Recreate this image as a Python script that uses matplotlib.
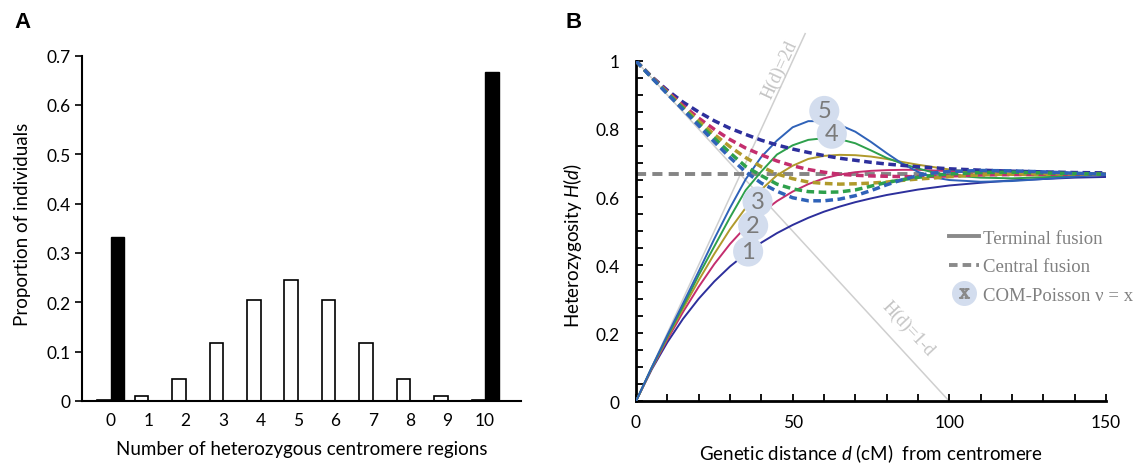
import numpy as np
import matplotlib.pyplot as plt
from matplotlib.lines import Line2D
from matplotlib.ticker import MultipleLocator, FuncFormatter

plt.rcParams['font.family'] = ['Lato', 'DejaVu Sans']
plt.rcParams['mathtext.fontset'] = 'custom'
plt.rcParams['mathtext.it'] = 'Lato:italic'
plt.rcParams['mathtext.rm'] = 'Liberation Serif'

# ---- panel A data
n_het = list(range(11))
white_bars = [0.001, 0.010, 0.044, 0.117, 0.205, 0.246, 0.205, 0.117, 0.044, 0.010, 0.001]
black_bars = [0.333, 0, 0, 0, 0, 0, 0, 0, 0, 0, 0.667]

# ---- panel B data, d in cM
dist_cM = [0, 5, 10, 15, 20, 25, 30, 35, 40, 45, 50, 55, 60, 65, 70, 75, 80, 85, 90, 95,
           100, 110, 120, 130, 140, 150]
term_1 = [0, 0.093, 0.173, 0.242, 0.301, 0.352, 0.396, 0.433, 0.466, 0.494, 0.518, 0.539, 0.557,
          0.572, 0.585, 0.596, 0.606, 0.614, 0.622, 0.628, 0.634, 0.642, 0.649, 0.653, 0.657, 0.659]
term_2 = [0, 0.095, 0.181, 0.262, 0.336, 0.403, 0.462, 0.512, 0.553, 0.588, 0.616, 0.638, 0.655,
          0.666, 0.673, 0.677, 0.679, 0.680, 0.680, 0.678, 0.676, 0.671, 0.668, 0.666, 0.666, 0.667]
term_3 = [0, 0.097, 0.186, 0.272, 0.355, 0.433, 0.505, 0.568, 0.622, 0.664, 0.692, 0.712, 0.721,
          0.724, 0.723, 0.719, 0.712, 0.703, 0.695, 0.688, 0.681, 0.671, 0.665, 0.663, 0.664, 0.666]
term_4 = [0, 0.098, 0.190, 0.279, 0.370, 0.455, 0.540, 0.620, 0.675, 0.725, 0.752, 0.768, 0.773,
          0.770, 0.758, 0.737, 0.715, 0.698, 0.684, 0.672, 0.664, 0.657, 0.655, 0.658, 0.663, 0.666]
term_5 = [0, 0.099, 0.194, 0.287, 0.381, 0.477, 0.568, 0.652, 0.718, 0.766, 0.805, 0.823, 0.823,
          0.812, 0.792, 0.762, 0.729, 0.698, 0.674, 0.658, 0.650, 0.645, 0.647, 0.653, 0.660, 0.666]
cent_1 = [1, 0.954, 0.914, 0.879, 0.850, 0.824, 0.802, 0.784, 0.767, 0.753, 0.741, 0.731, 0.722,
          0.714, 0.708, 0.702, 0.697, 0.693, 0.689, 0.686, 0.683, 0.679, 0.676, 0.674, 0.672, 0.671]
cent_2 = [1, 0.953, 0.910, 0.869, 0.832, 0.799, 0.769, 0.744, 0.724, 0.706, 0.692, 0.681, 0.673,
          0.667, 0.664, 0.662, 0.661, 0.660, 0.660, 0.661, 0.662, 0.665, 0.666, 0.667, 0.667, 0.667]
cent_3 = [1, 0.952, 0.907, 0.864, 0.823, 0.784, 0.748, 0.716, 0.689, 0.668, 0.654, 0.644, 0.640,
          0.638, 0.639, 0.641, 0.644, 0.649, 0.653, 0.656, 0.660, 0.665, 0.668, 0.669, 0.668, 0.667]
cent_4 = [1, 0.951, 0.905, 0.861, 0.815, 0.773, 0.730, 0.690, 0.663, 0.638, 0.624, 0.616, 0.614,
          0.615, 0.621, 0.632, 0.643, 0.651, 0.658, 0.664, 0.668, 0.672, 0.673, 0.671, 0.669, 0.667]
cent_5 = [1, 0.951, 0.903, 0.857, 0.810, 0.762, 0.716, 0.674, 0.641, 0.617, 0.598, 0.589, 0.589,
          0.594, 0.604, 0.619, 0.636, 0.651, 0.663, 0.671, 0.675, 0.678, 0.677, 0.674, 0.670, 0.667]
asymptote = 2 / 3

nu_values = [1, 2, 3, 4, 5]
nu_colors = ['#2d2f9c', '#c42e6e', '#b09a2c', '#2ea04c', '#2f62b8']
label_d = [35.8, 37.4, 38.8, 62.5, 60.1]
label_h = [0.44, 0.516, 0.587, 0.786, 0.853]

line_2d_d, line_2d_h = [0, 54], [0, 1.08]
line_1md_d, line_1md_h = [0, 100], [1, 0]

fig = plt.figure(figsize=(11.34, 4.64), dpi=100)
fmt = FuncFormatter(lambda v, p: f'{v:g}')

# ---------------- panel A
axA = fig.add_axes([0.072, 0.134, 0.3874, 0.744])
x = np.array(n_het)
w = 0.36
axA.bar(x - w / 2, white_bars, width=w, color='white', edgecolor='black', linewidth=1.2)
axA.bar(x + w / 2, black_bars, width=w, color='black', edgecolor='black', linewidth=1.0)
axA.set_xlim(-0.78, 10.96)
axA.set_ylim(0, 0.7)
axA.set_xticks(n_het)
axA.yaxis.set_major_locator(MultipleLocator(0.1))
axA.yaxis.set_major_formatter(fmt)
axA.tick_params(axis='x', length=0, pad=8, labelsize=12.5)
axA.tick_params(axis='y', direction='out', length=5, width=1.2, pad=3, labelsize=12.5)
for s in ['top', 'right']:
    axA.spines[s].set_visible(False)
for s in ['left', 'bottom']:
    axA.spines[s].set_linewidth(1.5)
axA.set_xlabel('Number of heterozygous centromere regions', fontsize=13.5, labelpad=9)
axA.set_ylabel('Proportion of individuals', fontsize=13.5)
axA.yaxis.set_label_coords(-0.115, 0.515)

# ---------------- panel B
axB = fig.add_axes([0.5608, 0.133, 0.4145, 0.7336])
axB.plot(line_2d_d, line_2d_h, color='#cfcfcf', lw=1.1, clip_on=False, zorder=1)
axB.plot(line_1md_d, line_1md_h, color='#cfcfcf', lw=1.1, zorder=1)
axB.axhline(asymptote, color='#858585', lw=2.8, dashes=(2.6, 1.6), zorder=2)

terms = [term_1, term_2, term_3, term_4, term_5]
cents = [cent_1, cent_2, cent_3, cent_4, cent_5]
for t, c in zip(terms, nu_colors):
    axB.plot(dist_cM, t, color=c, lw=1.4, zorder=3)
for cc, c in zip(cents, nu_colors):
    axB.plot(dist_cM, cc, color=c, lw=2.5, dashes=(2.2, 1.3), zorder=3)

axB.scatter(label_d, label_h, s=470, color='#d3ddee', edgecolor='none', zorder=5)
for nu, dd, hh in zip(nu_values, label_d, label_h):
    axB.text(dd, hh, str(nu), ha='center', va='center', fontsize=17, color='#7a7a7a', zorder=6)

axB.text(45.8, 0.975, 'H(d)=2d', rotation=65, ha='center', va='center', fontsize=13,
         family='Liberation Serif', color='#c4c4c4')
axB.text(87, 0.215, 'H(d)=1-d', rotation=-47, ha='center', va='center', fontsize=13,
         family='Liberation Serif', color='#c4c4c4')

axB.set_xlim(0, 150)
axB.set_ylim(0, 1)
axB.xaxis.set_major_locator(MultipleLocator(50))
axB.xaxis.set_minor_locator(MultipleLocator(10))
axB.yaxis.set_major_locator(MultipleLocator(0.2))
axB.yaxis.set_minor_locator(MultipleLocator(0.05))
axB.yaxis.set_major_formatter(fmt)
axB.tick_params(which='both', direction='in', length=5, width=1.3, labelsize=12.5)
axB.tick_params(axis='y', which='major', pad=12)
axB.tick_params(axis='x', which='major', pad=9)
for s in ['top', 'right']:
    axB.spines[s].set_visible(False)
for s in ['left', 'bottom']:
    axB.spines[s].set_linewidth(2)
axB.set_xlabel(r'Genetic distance $d$ (cM)  from centromere', fontsize=13.5, labelpad=8)
axB.set_ylabel(r'Heterozygosity $H$($d$)', fontsize=13.5)
axB.yaxis.set_label_coords(-0.11, 0.46)

handles = [
    Line2D([], [], color='#8a8a8a', lw=2.8),
    Line2D([], [], color='#8a8a8a', lw=2.8, dashes=(2.2, 1.3)),
    (Line2D([], [], ls='', marker='o', ms=18, mfc='#d3ddee', mec='none'),
     Line2D([], [], ls='', marker='$\\mathrm{x}$', ms=7, color='#8a8a8a')),
]
axB.legend(handles, ['Terminal fusion', 'Central fusion', 'COM-Poisson \u03bd = x'],
           loc='upper left', bbox_to_anchor=(0.665, 0.505), frameon=False,
           prop={'family': 'Liberation Serif', 'size': 13.5}, labelcolor='#808080',
           handlelength=1.6, handletextpad=0.25, labelspacing=0.62, borderpad=0, borderaxespad=0)

fig.text(0.013, 0.94, 'A', fontsize=16, fontweight='bold', family='Liberation Sans')
fig.text(0.499, 0.94, 'B', fontsize=16, fontweight='bold', family='Liberation Sans')

fig.savefig('out.png', dpi=100)
